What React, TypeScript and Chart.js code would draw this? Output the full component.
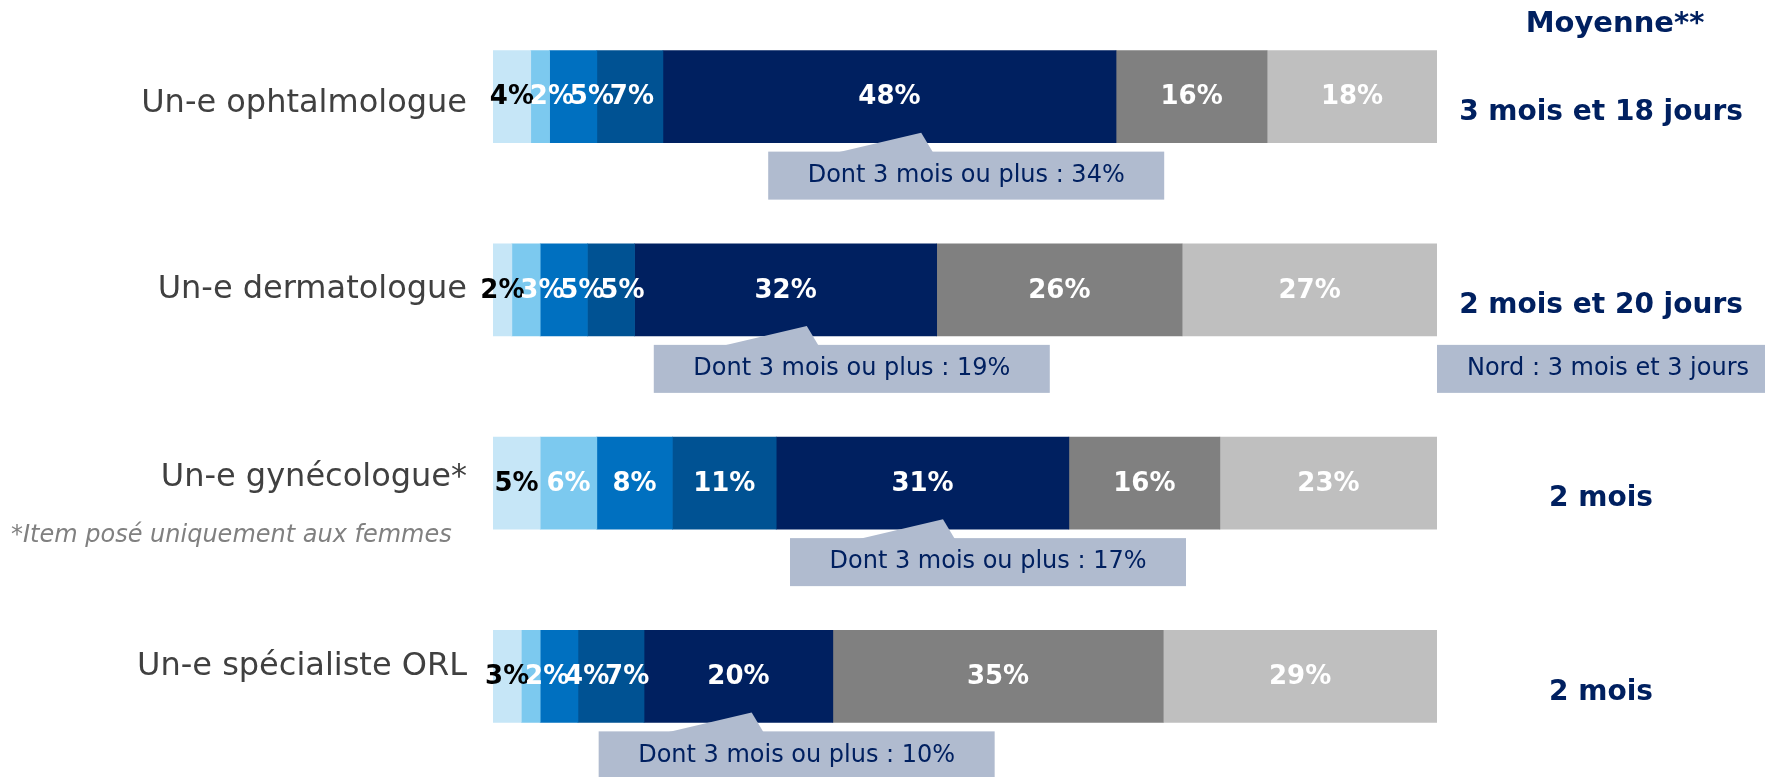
import React, { useEffect, useRef } from "react";
import { Chart, registerables } from "chart.js";

Chart.register(...registerables);

// ---- Data ----
const categories = [
  "Un-e ophtalmologue",
  "Un-e dermatologue",
  "Un-e gynécologue*",
  "Un-e spécialiste ORL",
];
const seriesNames = ["Tranche 1", "Tranche 2", "Tranche 3", "Tranche 4", "Tranche 5", "Tranche 6", "Tranche 7"];
const tranche1 = [4, 2, 5, 3];
const tranche2 = [2, 3, 6, 2];
const tranche3 = [5, 5, 8, 4];
const tranche4 = [7, 5, 11, 7];
const tranche5 = [48, 32, 31, 20];
const tranche6 = [16, 26, 16, 35];
const tranche7 = [18, 27, 23, 29];
const dontTroisMoisOuPlus = [34, 19, 17, 10];
const moyennes = ["3 mois et 18 jours", "2 mois et 20 jours", "2 mois", "2 mois"];
const noteNord = { row: 1, text: "Nord : 3 mois et 3 jours" };
const moyenneTitle = "Moyenne**";
const footnote = "*Item posé uniquement aux femmes";

// ---- Styles ----
const colors = ["#C6E6F7", "#7CC9EF", "#0070C0", "#005293", "#002060", "#808080", "#BFBFBF"];
const labelColors = ["#000000", "#FFFFFF", "#FFFFFF", "#FFFFFF", "#FFFFFF", "#FFFFFF", "#FFFFFF"];
const NAVY = "#002060";
const CALLOUT = "#B0BBCF";
const FONT = '"DejaVu Sans", Verdana, sans-serif';
const catLabelDy = [7, 0, -5, -10];

const overlay = {
  id: "overlay",
  afterDatasetsDraw(chart: any) {
    const ctx = chart.ctx;
    const xs = chart.scales.x;
    const ys = chart.scales.y;
    const nDs = chart.data.datasets.length;
    const rightMid = (xs.right + chart.width) / 2;
    ctx.save();

    categories.forEach((cat, i) => {
      const yc = ys.getPixelForValue(i);
      const barH = 92;

      // category label
      ctx.font = `32px ${FONT}`;
      ctx.fillStyle = "#404040";
      ctx.textAlign = "right";
      ctx.textBaseline = "middle";
      ctx.fillText(cat, xs.left - 26, yc + catLabelDy[i]);

      // value labels with simple de-overlap
      ctx.font = `bold 26px ${FONT}`;
      let prev = -Infinity;
      for (let d = 0; d < nDs; d++) {
        const el = chart.getDatasetMeta(d).data[i];
        const v = chart.data.datasets[d].data[i];
        let cx = (el.x + el.base) / 2;
        if (cx < prev + 40) cx = prev + 40;
        prev = cx;
        ctx.fillStyle = labelColors[d];
        ctx.textAlign = "center";
        ctx.fillText(`${v}%`, cx, yc + 1);
      }

      // callout "Dont 3 mois ou plus"
      let cum = 0;
      for (let d = 0; d < 4; d++) cum += chart.data.datasets[d].data[i];
      const s5 = chart.data.datasets[4].data[i];
      const apexX = xs.getPixelForValue(cum + 0.57 * s5);
      const boxTop = yc + barH / 2 + 9;
      const boxH = 48;
      const boxW = 396;
      const boxLeft = apexX + 45 - boxW / 2;
      ctx.fillStyle = CALLOUT;
      ctx.fillRect(boxLeft, boxTop, boxW, boxH);
      ctx.beginPath();
      ctx.moveTo(apexX - 85, boxTop + 1);
      ctx.lineTo(apexX, yc + barH / 2 - 10);
      ctx.lineTo(apexX + 12, boxTop + 1);
      ctx.closePath();
      ctx.fill();
      ctx.fillStyle = NAVY;
      ctx.font = `24px ${FONT}`;
      ctx.textAlign = "center";
      ctx.fillText(`Dont 3 mois ou plus : ${dontTroisMoisOuPlus[i]}%`, boxLeft + boxW / 2, boxTop + boxH / 2);

      // Nord note
      if (i === noteNord.row) {
        ctx.fillStyle = CALLOUT;
        ctx.fillRect(xs.right, boxTop, chart.width - xs.right, boxH);
        ctx.fillStyle = NAVY;
        ctx.fillText(noteNord.text, rightMid + 7, boxTop + boxH / 2);
      }

      // average
      ctx.fillStyle = NAVY;
      ctx.font = `bold 28px ${FONT}`;
      ctx.fillText(moyennes[i], rightMid, yc + 16);

      if (i === 2) {
        ctx.font = `italic 24px ${FONT}`;
        ctx.fillStyle = "#808080";
        ctx.textAlign = "left";
        ctx.fillText(footnote, 11, yc + 53);
      }
    });

    ctx.font = `bold 29px ${FONT}`;
    ctx.fillStyle = NAVY;
    ctx.textAlign = "center";
    ctx.textBaseline = "middle";
    ctx.fillText(moyenneTitle, rightMid + 14, 24);
    ctx.restore();
  },
};

export default function App() {
  const ref = useRef<HTMLCanvasElement>(null);
  useEffect(() => {
    const series = [tranche1, tranche2, tranche3, tranche4, tranche5, tranche6, tranche7];
    const chart = new Chart(ref.current!, {
      type: "bar",
      data: {
        labels: categories,
        datasets: series.map((s, k) => ({
          label: seriesNames[k],
          data: s,
          backgroundColor: colors[k],
          borderWidth: 0,
          barThickness: 92,
        })),
      },
      options: {
        indexAxis: "y",
        animation: false,
        responsive: false,
        devicePixelRatio: 1,
        layout: { padding: { left: 493, right: 328, top: -2, bottom: 4 } },
        plugins: { legend: { display: false }, tooltip: { enabled: false } },
        scales: {
          x: { display: false, stacked: true, min: 0, max: 100 },
          y: { display: false, stacked: true },
        },
      },
      plugins: [overlay],
    });
    return () => chart.destroy();
  }, []);
  return (
    <div style={{ position: "absolute", left: 0, top: 0, width: 1765, height: 777, background: "#fff" }}>
      <canvas ref={ref} width={1765} height={777} style={{ width: 1765, height: 777 }} />
    </div>
  );
}
